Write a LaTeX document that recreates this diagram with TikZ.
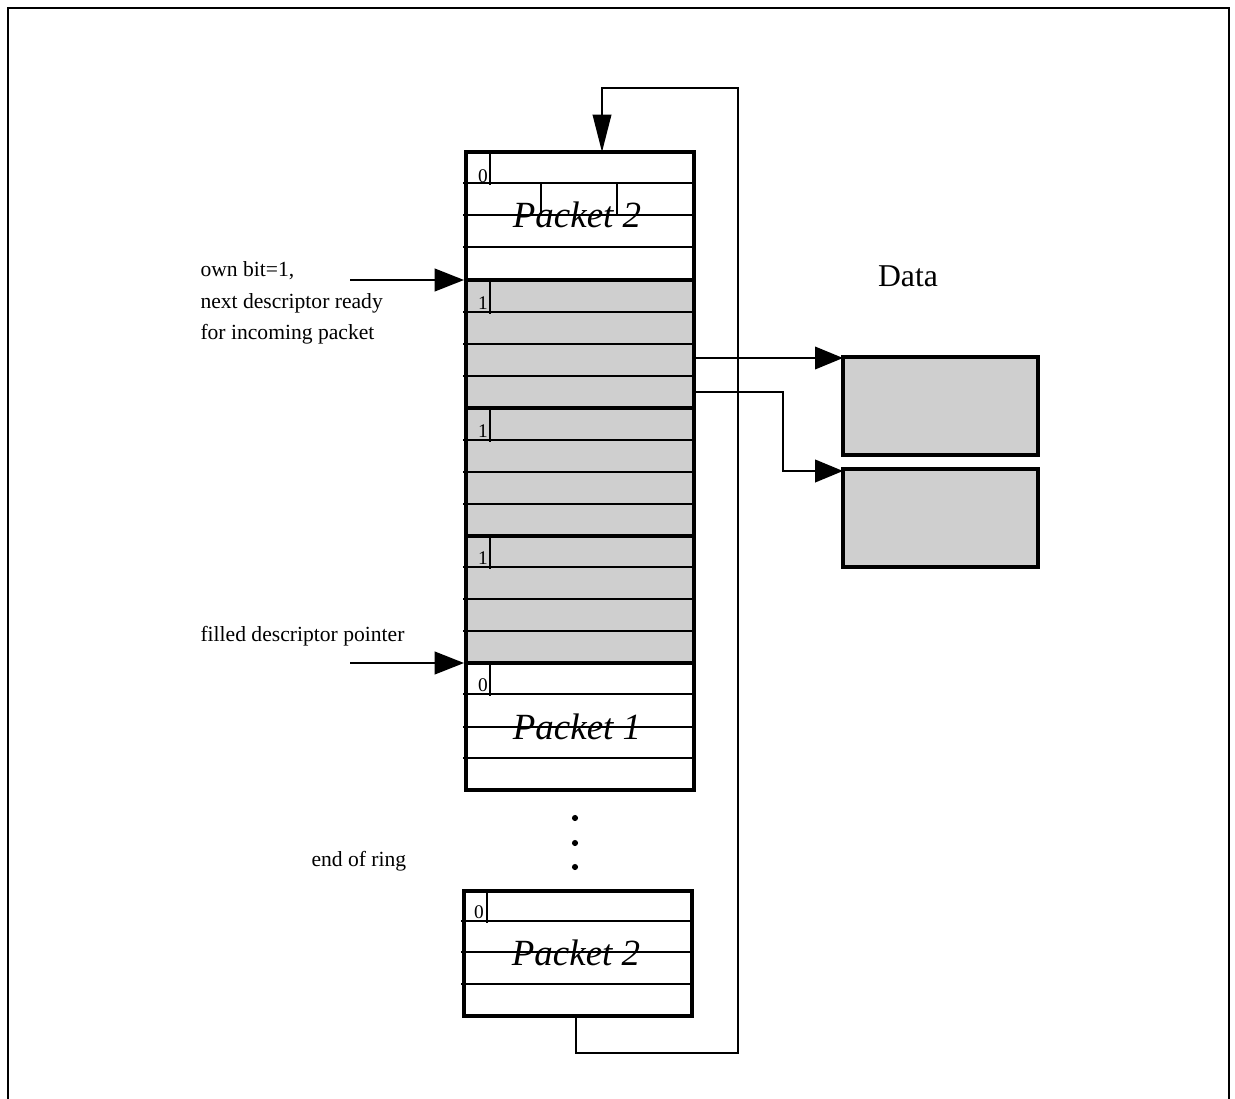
\documentclass[tikz,border=0pt]{standalone}
\usepackage{fontspec}
\setmainfont{Liberation Serif}
\usetikzlibrary{arrows.meta}
\definecolor{descgray}{RGB}{207,207,207}
\tikzset{every picture/.style={line width=0.75pt}}
\tikzset{
  blockline/.style={line width=2.3pt},
  rowline/.style={line width=1.5pt},
  tickline/.style={line width=1.1pt},
  ptrarrow/.style={line width=1.5pt,-{Triangle[length=22pt,width=17pt]}},
  dataarrow/.style={line width=1.2pt,-{Triangle[length=21pt,width=17pt]}},
  ringarrow/.style={line width=1.1pt,-{Triangle[length=28pt,width=14pt]}},
  lbl/.style={inner sep=0pt,font=\fontsize{16.2}{23.8}\selectfont},
  bitlbl/.style={inner sep=0pt,anchor=base,font=\fontsize{14.5}{14.5}\selectfont},
  pktlbl/.style={inner sep=0pt,anchor=base,font=\fontsize{27.7}{30}\selectfont\itshape},
}

\begin{document}
\begin{tikzpicture}[x=0.75pt,y=0.75pt,yscale=-1,xscale=1]
\useasboundingbox (0,0) rectangle (1235,1099);

%Frame
\draw[line width=1.3pt] (8,1099) -- (8,8) -- (1229,8) -- (1229,1099) ;

%Descriptor 0: Packet 2
\draw (577,227) node [pktlbl] (pkt2top) {Packet 2};
\draw[rowline] (463,183) -- (694,183) ;
\draw[rowline] (463,215) -- (694,215) ;
\draw[rowline] (463,247) -- (694,247) ;
\draw[tickline] (490,152) -- (490,185) ;
\draw[tickline] (541,183) -- (541,215) ;
\draw[tickline] (617,183) -- (617,215) ;
\draw (483,182) node [bitlbl] (own0) {0};
\draw[blockline] (466,152) rectangle (694,280) ;

%Descriptor 1 (gray)
\filldraw[fill=descgray,blockline] (466,280) rectangle (694,408) ;
\draw[rowline] (463,312) -- (694,312) ;
\draw[rowline] (463,344) -- (694,344) ;
\draw[rowline] (463,376) -- (694,376) ;
\draw[tickline] (490,280) -- (490,314) ;
\draw (483,309) node [bitlbl] (own1) {1};

%Descriptor 2 (gray)
\filldraw[fill=descgray,blockline] (466,408) rectangle (694,536) ;
\draw[rowline] (463,440) -- (694,440) ;
\draw[rowline] (463,472) -- (694,472) ;
\draw[rowline] (463,504) -- (694,504) ;
\draw[tickline] (490,408) -- (490,442) ;
\draw (483,437) node [bitlbl] (own2) {1};

%Descriptor 3 (gray)
\filldraw[fill=descgray,blockline] (466,536) rectangle (694,663) ;
\draw[rowline] (463,567) -- (694,567) ;
\draw[rowline] (463,599) -- (694,599) ;
\draw[rowline] (463,631) -- (694,631) ;
\draw[tickline] (490,536) -- (490,569) ;
\draw (483,564) node [bitlbl] (own3) {1};

%Descriptor 4: Packet 1
\draw (577,739) node [pktlbl] (pkt1) {Packet 1};
\draw[rowline] (463,694) -- (694,694) ;
\draw[rowline] (463,727) -- (694,727) ;
\draw[rowline] (463,758) -- (694,758) ;
\draw[tickline] (490,663) -- (490,696) ;
\draw (483,691) node [bitlbl] (own4) {0};
\draw[blockline] (466,663) rectangle (694,790) ;

%Dots
\fill (575,818) circle (2.3pt) ;
\fill (575,843) circle (2.3pt) ;
\fill (575,867) circle (2.3pt) ;

%Last descriptor: Packet 2
\draw (576,965) node [pktlbl] (pkt2end) {Packet 2};
\draw[rowline] (461,921) -- (692,921) ;
\draw[rowline] (461,952) -- (692,952) ;
\draw[rowline] (461,984) -- (692,984) ;
\draw[tickline] (487,891) -- (487,923) ;
\draw (479,918) node [bitlbl] (ownend) {0};
\draw[blockline] (464,891) rectangle (692,1016) ;

%Data buffers
\filldraw[fill=descgray,blockline] (843,357) rectangle (1038,455) ;
\filldraw[fill=descgray,blockline] (843,469) rectangle (1038,567) ;
\draw (908,286) node [inner sep=0pt,anchor=base,font=\fontsize{23.8}{26}\selectfont] (data) {Data};

%Named ends
\coordinate (ringend) at (576,1016);
\coordinate (ringtop) at (602,152);
\coordinate (nextdesc) at (464,280);
\coordinate (filldesc) at (464,663);
\coordinate (buf1) at (843,358);
\coordinate (buf2) at (843,471);
\coordinate (bufptr1) at (694,358);
\coordinate (bufptr2) at (694,392);

%Ring return
\draw[ringarrow] (ringend) -- (576,1053) -- (738,1053) -- (738,88) -- (602,88) -- (ringtop) ;

%Buffer pointers
\draw[dataarrow] (bufptr1) -- (buf1) ;
\draw[dataarrow,line width=1.5pt] (bufptr2) -- (783,392) -- (783,471) -- (buf2) ;

% Text Node
\draw (200,261) node [lbl,anchor=north west,align=left] (ownlbl) {own bit=1,\\next descriptor ready\\for incoming packet};
% Text Node
\draw (200,641) node [lbl,anchor=base west] (filllbl) {filled descriptor pointer};
% Text Node
\draw (311,866) node [lbl,anchor=base west] (ringlbl) {end of ring};

%Pointers
\draw[ptrarrow] (350,280) -- (nextdesc) ;
\draw[ptrarrow] (350,663) -- (filldesc) ;

\end{tikzpicture}
\end{document}
